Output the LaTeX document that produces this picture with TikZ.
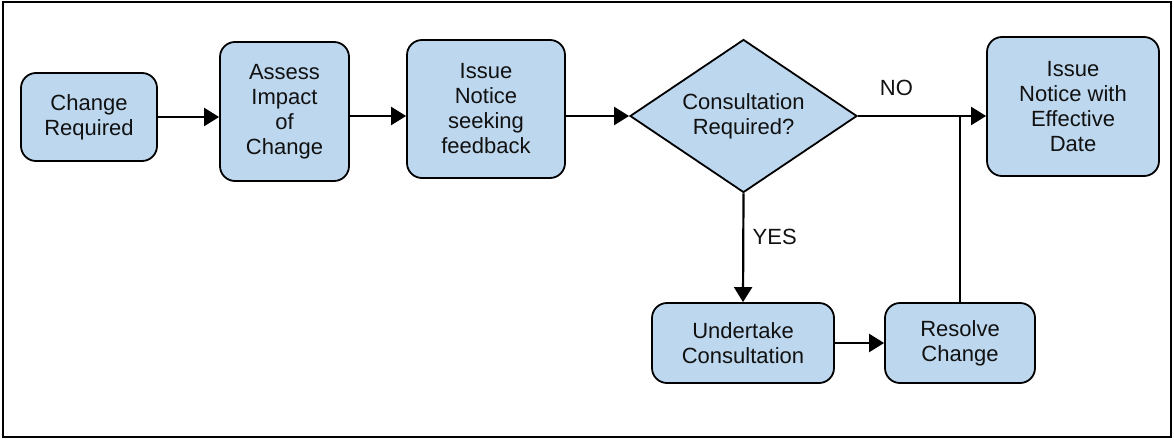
\documentclass[tikz,border=0pt]{standalone}
\usepackage{fontspec}
\setmainfont{Liberation Sans}
\usetikzlibrary{shapes.geometric,arrows.meta}
\definecolor{boxblue}{HTML}{BDD7EE}
\definecolor{txt}{HTML}{111111}
\begin{document}
\begin{tikzpicture}[x=1pt,y=-1pt,
  box/.style={draw=black,fill=boxblue,line width=1.8pt,rounded corners=15pt,
    inner sep=0pt,align=center,text=txt,
    font=\fontsize{22}{25}\selectfont},
  dec/.style={draw=black,fill=boxblue,line width=1.8pt,shape=diamond,
    shape aspect=1.48,inner sep=0pt,align=center,text=txt,
    font=\fontsize{22}{25}\selectfont},
  conn/.style={line width=2.2pt,-{Triangle[length=15pt,width=18pt]}},
  plain/.style={line width=2.2pt},
  lbl/.style={text=txt,font=\fontsize{22}{25}\selectfont}]
\useasboundingbox (0,0) rectangle (1174,439);
\draw[line width=2pt] (3,2) rectangle (1171,437);
\node[box,minimum width=136pt,minimum height=88pt] (chg) at (89,117) {Change\\Required};
\node[box,minimum width=129pt,minimum height=139pt] (ass) at (284.5,111.5) {Assess\\Impact\\of\\Change};
\node[box,minimum width=158pt,minimum height=138pt] (iss) at (486,109) {Issue\\Notice\\seeking\\feedback};
\node[dec,minimum width=227pt,minimum height=153pt] (dia) at (743.5,116) {Consultation\\Required?};
\node[box,minimum width=172pt,minimum height=139pt] (eff) at (1073,106.5) {Issue\\Notice with\\Effective\\Date};
\node[box,minimum width=182pt,minimum height=80pt] (und) at (743,343) {Undertake\\Consultation};
\node[box,minimum width=150pt,minimum height=80pt] (res) at (960,343) {Resolve\\Change};
\draw[conn] (chg.east) -- (chg.east -| ass.west);
\draw[conn] (ass.east |- dia.west) -- (iss.west |- dia.west);
\draw[conn] (iss.east |- dia.west) -- (dia.west);
\draw[conn] (dia.east) -- (dia.east -| eff.west) node[lbl,pos=0.3,above=16pt] (no) {NO};
\draw[conn] (dia.south) -- (und.north) node[lbl,pos=0.4,right=5pt] (yes) {YES};
\draw[conn] (und.east) -- (res.west);
\draw[plain] (res.north) -- (res.north |- dia.east);
\end{tikzpicture}
\end{document}
